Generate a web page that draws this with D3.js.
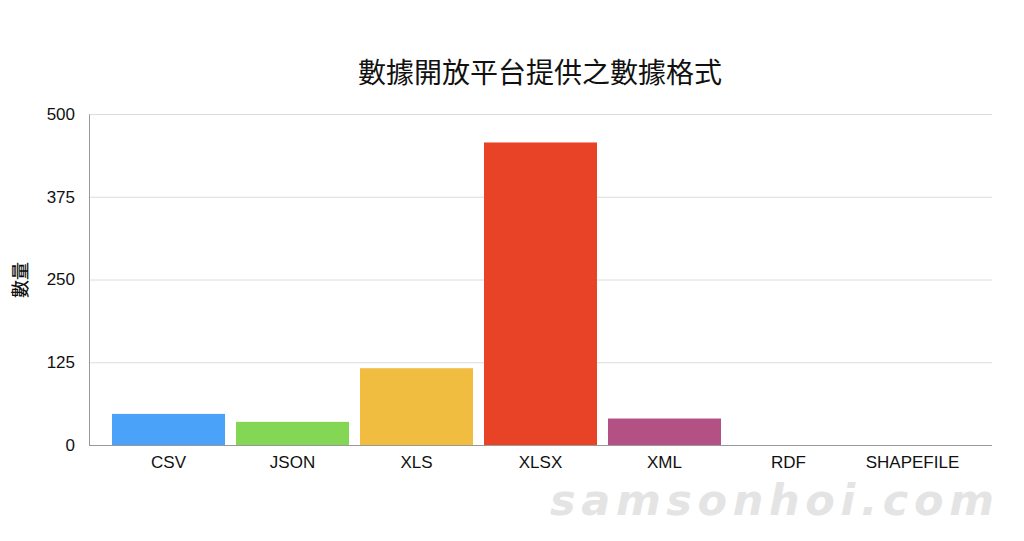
<!DOCTYPE html>
<html><head><meta charset="utf-8">
<script src="https://cdn.jsdelivr.net/npm/d3@7"></script>
<style>body{margin:0;background:#fff}</style>
</head><body>
<svg id="c" width="1024" height="541"></svg>
<script>
const categories = ["CSV","JSON","XLS","XLSX","XML","RDF","SHAPEFILE"];
const values = [47, 35, 116, 457, 40, 0, 0];
const colors = ["#4aa3f8","#84d655","#f0bd41","#e94327","#b35185","#999999","#999999"];
const yTicks = [0,125,250,375,500];
const title = "數據開放平台提供之數據格式";
const yLabel = "數量";
const watermark = "samsonhoi.com";

(function(){
const svg = d3.select("#c");
const pLeft = 89, pRight = 992, pTop = 114, pBottom = 445;
const x = d3.scaleBand().domain(categories).range([106.5, 974.5]).paddingInner(0.0887).paddingOuter(0.0443);
const y = d3.scaleLinear().domain([0,500]).range([pBottom, pTop]);
const font = "'Liberation Sans', Arial, sans-serif";

// gridlines
svg.append("g").selectAll("line").data(yTicks.filter(d=>d>0)).join("line")
  .attr("x1", pLeft).attr("x2", pRight).attr("y1", d=>y(d)+0.5).attr("y2", d=>y(d)+0.5)
  .attr("stroke", "#dcdcdc").attr("stroke-width", 1);

// watermark
svg.append("text").attr("x", 550).attr("y", 515)
  .attr("font-family","'DejaVu Sans', sans-serif").attr("font-style","italic").attr("font-weight","bold")
  .attr("font-size", 43).attr("fill","#e4e4e4")
  .attr("textLength", 444).attr("lengthAdjust","spacing").text(watermark);

// bars
svg.append("g").selectAll("rect").data(categories).join("rect")
  .attr("x", d=>x(d)).attr("width", x.bandwidth())
  .attr("y", (d,i)=>y(values[i])).attr("height", (d,i)=>pBottom - y(values[i]))
  .attr("fill", (d,i)=>colors[i]);

// y axis
const ya = svg.append("g").attr("transform", `translate(${pLeft},0)`)
  .call(d3.axisLeft(y).tickValues(yTicks).tickSize(0).tickPadding(14));
ya.select(".domain").attr("stroke","#999");
ya.selectAll("text").attr("font-family", font).attr("font-size", 17).attr("fill","#111");

// x axis
const xa = svg.append("g").attr("transform", `translate(0,${pBottom})`)
  .call(d3.axisBottom(x).tickSize(0).tickPadding(11));
xa.select(".domain").remove();
xa.selectAll("text").attr("font-family", font).attr("font-size", 17).attr("fill","#111");
svg.append("line").attr("x1", pLeft).attr("x2", pRight).attr("y1", pBottom+0.5).attr("y2", pBottom+0.5)
  .attr("stroke","#999");

// title
svg.append("text").attr("x", 540).attr("y", 83).attr("text-anchor","middle")
  .attr("font-family","'Noto Sans CJK TC', sans-serif").attr("font-weight", 400)
  .attr("font-size", 28).attr("fill","#111").text(title);

// y label
svg.append("text").attr("transform","translate(27,280) rotate(-90)").attr("text-anchor","middle")
  .attr("font-family","'Noto Sans CJK TC', sans-serif").attr("font-weight", 500)
  .attr("font-size", 18).attr("fill","#111").text(yLabel);
})();
</script>
</body></html>
